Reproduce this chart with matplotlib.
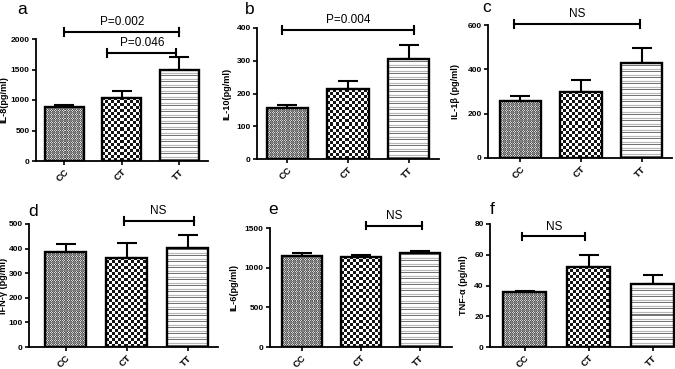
import numpy as np
import matplotlib
matplotlib.use("Agg")
import matplotlib.pyplot as plt

plt.rcParams['font.family'] = ['Liberation Sans', 'DejaVu Sans']

# ---------------- data ----------------
categories = ["CC", "CT", "TT"]
panel_letters = ["a", "b", "c", "d", "e", "f"]
ylabels = ["IL-8(pg/ml)", "IL-10(pg/ml)", "IL-1\u03b2 (pg/ml)",
           "IFN-\u03b3 (pg/ml)", "IL-6(pg/ml)", "TNF-\u03b1 (pg/ml)"]
il8_mean = [880, 1040, 1500]
il8_err = [40, 110, 200]
il10_mean = [155, 215, 305]
il10_err = [10, 23, 42]
il1b_mean = [258, 300, 430]
il1b_err = [20, 50, 67]
ifng_mean = [385, 360, 402]
ifng_err = [35, 62, 55]
il6_mean = [1150, 1135, 1185]
il6_err = [40, 30, 20]
tnfa_mean = [35.5, 52, 41]
tnfa_err = [0.8, 8, 6]
yticks_list = [[0, 500, 1000, 1500, 2000], [0, 100, 200, 300, 400],
               [0, 200, 400, 600], [0, 100, 200, 300, 400, 500],
               [0, 500, 1000, 1500], [0, 20, 40, 60, 80]]
# brackets: (x_start, x_end, y, label)
brackets = [
    [(0.0, 2.0, 2115, "P=0.002"), (0.75, 1.95, 1770, "P=0.046")],
    [(-0.08, 2.08, 393, "P=0.004")],
    [(-0.1, 1.98, 603, "NS")],
    [(0.95, 2.1, 512, "NS")],
    [(1.09, 2.04, 1530, "NS")],
    [(-0.04, 0.95, 72, "NS")],
]

means = [il8_mean, il10_mean, il1b_mean, ifng_mean, il6_mean, tnfa_mean]
errs = [il8_err, il10_err, il1b_err, ifng_err, il6_err, tnfa_err]

# ---------------- layout (pixels) ----------------
W, H = 675, 369
boxes = [(36, 39, 208, 161), (257, 28, 439, 159), (488, 25, 672, 158),
         (29, 224, 218, 347), (270, 228, 452, 347), (490, 224, 675, 347)]
xlims = [(-0.49, 2.5), (-0.5, 2.5), (-0.53, 2.5),
         (-0.6, 2.5), (-0.54, 2.55), (-0.54, 2.35)]
letter_pos = [(22, 10), (250, 9), (487, 8), (33, 211), (273, 210), (492, 210)]
ylabel_x = [8, 231, 460, 8.5, 238, 468]


def texture(kind, hpx, wpx):
    i = np.arange(hpx)[:, None]
    j = np.arange(wpx)[None, :]
    if kind == 0:
        chk = ((i + j) % 2).astype(float)
        arr = np.where(chk == 0, 0.35, 0.85)
        arr = np.where((i % 4) == 0, 0.5, arr)
        arr = np.where((j % 4) == 0, np.minimum(arr, 0.55), arr)
    elif kind == 1:
        chk = ((i // 3 + j // 3) % 2)
        arr = np.where(chk == 0, 0.08, 1.0)
    else:
        r = i % 6 + 0 * j
        arr = np.choose(r, [1.0, 0.45, 0.97, 0.72, 0.97, 1.0]).astype(float)
    return arr


fig = plt.figure(figsize=(W / 100, H / 100), dpi=100)

for k in range(6):
    l, t, r, b = boxes[k]
    ax = fig.add_axes([l / W, 1 - b / H, (r - l) / W, (b - t) / H])
    x = np.arange(3)
    ytop = yticks_list[k][-1]
    xl = xlims[k]
    bw = 0.68
    bars = ax.bar(x, means[k], width=bw, color='white', edgecolor='none', zorder=2)
    pxx = (r - l) / (xl[1] - xl[0])
    pxy = (b - t) / ytop
    for n, bar in enumerate(bars):
        x0 = bar.get_x()
        w = bar.get_width()
        h = bar.get_height()
        wpx = max(int(round(w * pxx)), 2)
        hpx = max(int(round(h * pxy)), 2)
        arr = texture(n, hpx, wpx)
        im = ax.imshow(arr, extent=(x0, x0 + w, 0, h), aspect='auto',
                       interpolation='nearest', cmap='gray', vmin=0, vmax=1,
                       origin='lower', zorder=2.5)
        im.set_clip_path(bar)
    ax.errorbar(x, means[k], yerr=[[0, 0, 0], errs[k]], fmt='none', ecolor='black',
                elinewidth=1.5, capsize=7, capthick=1.5, zorder=2.2)
    ax.bar(x, means[k], width=bw, fill=False, edgecolor='black', linewidth=1.7, zorder=3)
    ax.set_xlim(*xl)
    ax.set_ylim(0, ytop)
    ax.set_aspect('auto')
    ax.set_yticks(yticks_list[k])
    ax.set_yticklabels([str(v) for v in yticks_list[k]], fontsize=6.0, fontweight='bold')
    ax.set_xticks(x)
    ax.set_xticklabels(categories, rotation=45, ha='right', va='top',
                       rotation_mode='anchor', fontsize=6.8, fontweight='bold')
    for s in ['top', 'right']:
        ax.spines[s].set_visible(False)
    for s in ['left', 'bottom']:
        ax.spines[s].set_linewidth(1.3)
    ax.tick_params(axis='both', direction='out', length=3, width=1.2, pad=1.5)
    ax.set_ylabel(ylabels[k], fontsize=6.6, fontweight='bold')
    ax.yaxis.set_label_coords((ylabel_x[k] - l) / (r - l), 0.5)
    # brackets
    for (xs, xe, yb, lab) in brackets[k]:
        cap = ytop * 0.03
        ax.plot([xs, xe], [yb, yb], color='black', lw=1.5, clip_on=False, zorder=4)
        ax.plot([xs, xs], [yb - cap, yb + cap], color='black', lw=1.5, clip_on=False)
        ax.plot([xe, xe], [yb - cap, yb + cap], color='black', lw=1.5, clip_on=False)
        ax.text((xs + xe) / 2, yb + ytop * 0.03, lab, ha='center', va='bottom',
                fontsize=8.5, clip_on=False)
    lx, ly = letter_pos[k]
    fig.text(lx / W, 1 - ly / H, panel_letters[k], fontsize=12.5, ha='center', va='center')

fig.savefig("out.png", dpi=100)
